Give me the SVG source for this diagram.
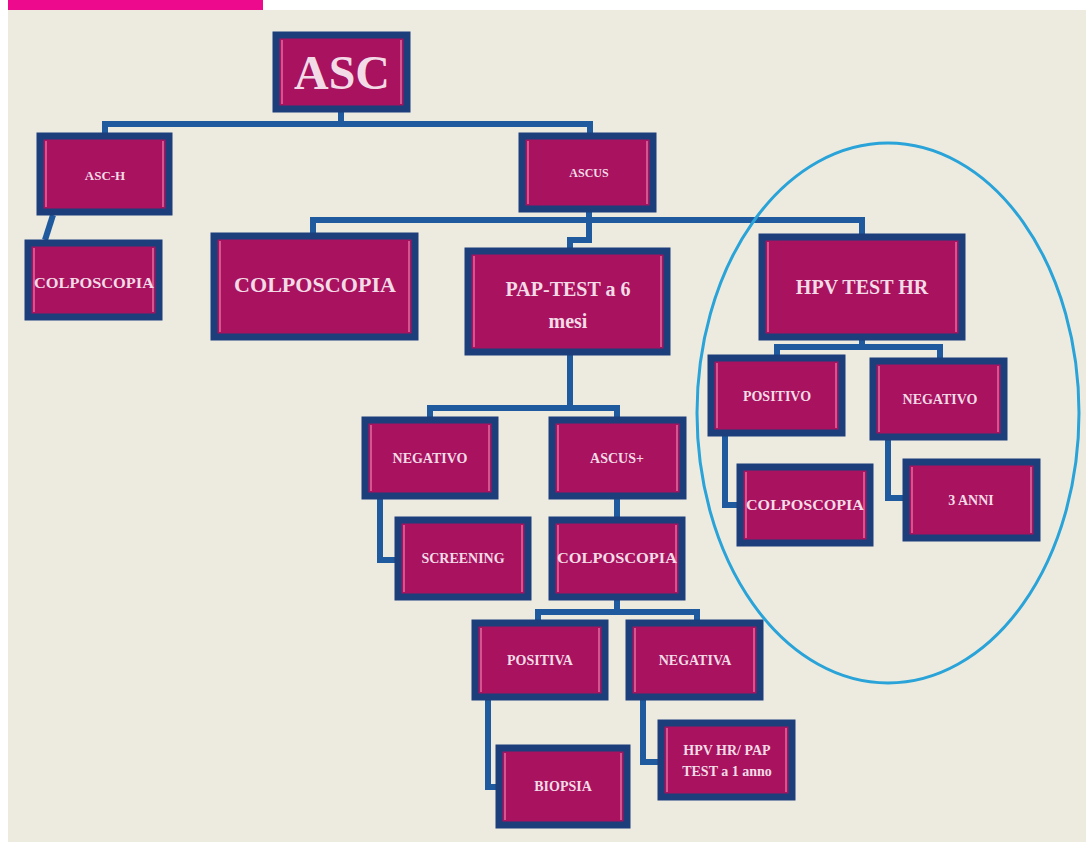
<svg xmlns="http://www.w3.org/2000/svg" width="1086" height="842" viewBox="0 0 1086 842">
<style>
.bx{fill:#a8125f;stroke:#1c3f7c;stroke-width:7}
.in{fill:none;stroke:#e46aa0;stroke-width:1.5;stroke-dasharray:none}
.t{font-family:"Liberation Serif","DejaVu Serif",serif;font-weight:bold;fill:#f2dbe6;text-anchor:middle}
.s{font-size:14px}
.m{font-size:20px}
.c{fill:none;stroke:#1f5a9e;stroke-width:6;stroke-linejoin:miter}
</style>
<rect x="0" y="0" width="1086" height="842" fill="#ffffff"/>
<rect x="8" y="10" width="1078" height="832" fill="#edebe0"/>
<rect x="8" y="0" width="255" height="10" fill="#ee0a8c"/>
<g id="connectors" class="c">
<polyline points="341,112 341,124 105,124 105,133"/>
<polyline points="341,124 590,124 590,133"/>
<line x1="53" y1="215" x2="45" y2="240"/>
<polyline points="589,212 589,220 313,220 313,233"/>
<polyline points="589,220 862,220 862,234"/>
<polyline points="589,220 589,240 570,240 570,248"/>
<polyline points="570,355 570,408 430,408 430,417"/>
<polyline points="570,408 617,408 617,417"/>
<polyline points="380,499 380,560 395,560"/>
<line x1="617" y1="499" x2="617" y2="517"/>
<polyline points="617,600 617,612 538,612 538,620"/>
<polyline points="617,612 697,612 697,620"/>
<polyline points="488,700 488,787 496,787"/>
<polyline points="643,700 643,762 658,762"/>
<polyline points="862,340 862,347 777,347 777,355"/>
<polyline points="862,347 940,347 940,358"/>
<polyline points="725,436 725,505 737,505"/>
<polyline points="888,440 888,498 903,498"/>
</g>
<g id="n-asc"><rect class="bx" x="276" y="35" width="131" height="74"/><path class="in" d="M282,40V104M401,40V104"/><text class="t" x="342" y="89" font-size="48">ASC</text></g>
<g id="n-asch"><rect class="bx" x="40" y="136" width="129" height="76"/><path class="in" d="M46,141V207M163,141V207"/><text class="t" x="105" y="180" font-size="13">ASC-H</text></g>
<g id="n-ascus"><rect class="bx" x="522" y="136" width="131" height="73"/><path class="in" d="M528,141V204M647,141V204"/><text class="t" x="589" y="177" font-size="12">ASCUS</text></g>
<g id="n-colpo1"><rect class="bx" x="28" y="243" width="131" height="74"/><path class="in" d="M34,248V312M153,248V312"/><text class="t s" x="94" y="288" textLength="120" lengthAdjust="spacingAndGlyphs">COLPOSCOPIA</text></g>
<g id="n-colpo2"><rect class="bx" x="214" y="236" width="201" height="101"/><path class="in" d="M220,241V332M409,241V332"/><text class="t m" x="315" y="292" textLength="162" lengthAdjust="spacingAndGlyphs">COLPOSCOPIA</text></g>
<g id="n-pap"><rect class="bx" x="468" y="251" width="199" height="101"/><path class="in" d="M474,256V347M661,256V347"/><text class="t m" x="568" y="296">PAP-TEST a 6</text><text class="t m" x="568" y="328">mesi</text></g>
<g id="n-hpv"><rect class="bx" x="762" y="237" width="200" height="100"/><path class="in" d="M768,242V332M956,242V332"/><text class="t m" x="862" y="294">HPV TEST HR</text></g>
<g id="n-pos1"><rect class="bx" x="711" y="358" width="131" height="75"/><path class="in" d="M717,363V428M836,363V428"/><text class="t s" x="777" y="401">POSITIVO</text></g>
<g id="n-neg1"><rect class="bx" x="873" y="361" width="131" height="76"/><path class="in" d="M879,366V432M998,366V432"/><text class="t s" x="940" y="404">NEGATIVO</text></g>
<g id="n-colpo3"><rect class="bx" x="740" y="467" width="130" height="76"/><path class="in" d="M746,472V538M864,472V538"/><text class="t s" x="805" y="510" textLength="118" lengthAdjust="spacingAndGlyphs">COLPOSCOPIA</text></g>
<g id="n-3anni"><rect class="bx" x="906" y="462" width="131" height="76"/><path class="in" d="M912,467V533M1031,467V533"/><text class="t s" x="971" y="505">3 ANNI</text></g>
<g id="n-neg2"><rect class="bx" x="365" y="420" width="130" height="76"/><path class="in" d="M371,425V491M489,425V491"/><text class="t s" x="430" y="463">NEGATIVO</text></g>
<g id="n-ascusp"><rect class="bx" x="552" y="420" width="131" height="76"/><path class="in" d="M558,425V491M677,425V491"/><text class="t s" x="617" y="463">ASCUS+</text></g>
<g id="n-screen"><rect class="bx" x="398" y="520" width="130" height="77"/><path class="in" d="M404,525V592M522,525V592"/><text class="t s" x="463" y="563">SCREENING</text></g>
<g id="n-colpo4"><rect class="bx" x="552" y="520" width="130" height="77"/><path class="in" d="M558,525V592M676,525V592"/><text class="t s" x="617" y="563" textLength="120" lengthAdjust="spacingAndGlyphs">COLPOSCOPIA</text></g>
<g id="n-posa"><rect class="bx" x="475" y="623" width="130" height="74"/><path class="in" d="M481,628V692M599,628V692"/><text class="t s" x="540" y="665">POSITIVA</text></g>
<g id="n-nega"><rect class="bx" x="629" y="623" width="131" height="74"/><path class="in" d="M635,628V692M754,628V692"/><text class="t s" x="695" y="665">NEGATIVA</text></g>
<g id="n-biopsia"><rect class="bx" x="499" y="748" width="128" height="77"/><path class="in" d="M505,753V820M621,753V820"/><text class="t s" x="563" y="791">BIOPSIA</text></g>
<g id="n-hpvpap"><rect class="bx" x="661" y="723" width="131" height="74"/><path class="in" d="M667,728V792M786,728V792"/><text class="t s" x="727" y="755">HPV HR/ PAP</text><text class="t s" x="727" y="776">TEST a 1 anno</text></g>
<ellipse id="highlight" cx="888" cy="413" rx="191" ry="270" fill="none" stroke="#29a3d8" stroke-width="3"/>
</svg>
